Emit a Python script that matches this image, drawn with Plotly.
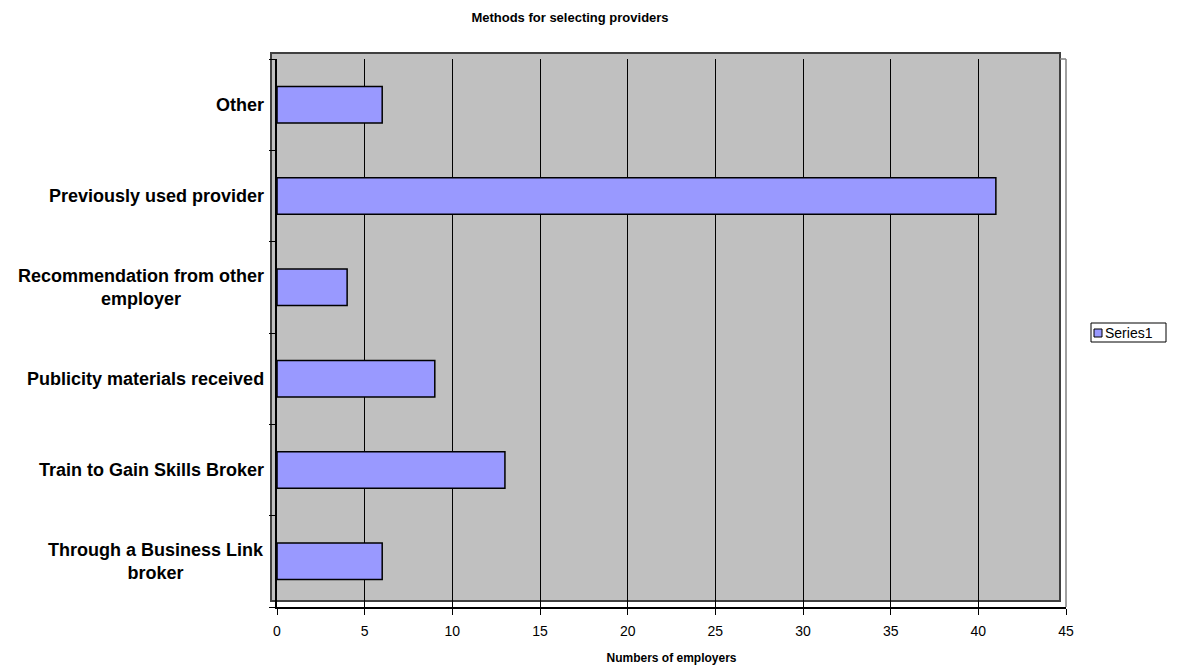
import plotly.graph_objects as go

categories = [
    "Through a Business Link<br>broker",
    "Train to Gain Skills Broker",
    "Publicity materials received",
    "Recommendation from other<br>employer",
    "Previously used provider",
    "Other",
]
values = [6, 13, 9, 4, 41, 6]
x_ticks = [0, 5, 10, 15, 20, 25, 30, 35, 40, 45]
series_name = "Series1"

W, H = 1178, 666
L, R, T, B = 277, 112, 59, 59
pw, ph = W - L - R, H - T - B
BAR_COLOR = "#9999FF"

def px_x(p):
    return (p - L) / pw

def px_y(p):
    return (H - B - p) / ph

fig = go.Figure()
fig.add_trace(go.Bar(
    y=categories, x=values, orientation="h", name=series_name,
    marker=dict(color=BAR_COLOR, line=dict(color="#000000", width=1.5)),
    showlegend=False,
))

annotations = [
    dict(text="<b>" + c + "</b>", x=px_x(266), xref="paper", y=c, yref="y",
         xanchor="right", yanchor="middle", align="center", showarrow=False,
         font=dict(size=18))
    for c in categories
]
annotations.append(dict(text=series_name, x=px_x(1103), xref="paper", y=px_y(332.5), yref="paper",
                        xanchor="left", yanchor="middle", showarrow=False, font=dict(size=14)))

fig.update_layout(
    width=W, height=H,
    margin=dict(l=L, r=R, t=T, b=B, autoexpand=False),
    paper_bgcolor="white", plot_bgcolor="rgba(0,0,0,0)",
    font=dict(family="Liberation Sans, Arial, sans-serif", color="black"),
    bargap=0.6,
    title=dict(text="<b>Methods for selecting providers</b>", x=570 / W, xanchor="center",
               y=1 - 17 / H, yanchor="middle", font=dict(size=13)),
    annotations=annotations,
    shapes=[
        dict(type="rect", xref="paper", yref="paper", layer="below",
             x0=px_x(271), x1=px_x(1060), y0=px_y(601), y1=px_y(53),
             fillcolor="#C0C0C0", line=dict(color="#404040", width=2)),
        dict(type="line", xref="paper", yref="paper", layer="above",
             x0=px_x(1060), x1=px_x(1066), y0=1, y1=1,
             line=dict(color="#808080", width=1.5)),
        dict(type="line", xref="paper", yref="paper", layer="above",
             x0=1, x1=1, y0=0, y1=1,
             line=dict(color="#808080", width=1.5)),
        # legend box
        dict(type="rect", xref="paper", yref="paper", layer="above",
             x0=px_x(1091), x1=px_x(1166), y0=px_y(342), y1=px_y(323),
             fillcolor="white", line=dict(color="black", width=1)),
        dict(type="rect", xref="paper", yref="paper", layer="above",
             x0=px_x(1094), x1=px_x(1102), y0=px_y(337), y1=px_y(329),
             fillcolor=BAR_COLOR, line=dict(color="black", width=1)),
    ],
)

fig.update_xaxes(
    range=[0, 45], tickvals=x_ticks, ticks="outside", ticklen=6, tickcolor="black",
    showgrid=True, gridcolor="black", gridwidth=1, zeroline=False,
    showline=True, linecolor="black", linewidth=1.5,
    tickfont=dict(size=14), ticklabelstandoff=4,
    title=dict(text="<b>Numbers of employers</b>", font=dict(size=12), standoff=16),
)
fig.update_yaxes(
    categoryorder="array", categoryarray=categories,
    ticks="outside", ticklen=6, tickcolor="black", tickson="boundaries",
    showgrid=False, zeroline=False, showticklabels=False,
    showline=True, linecolor="black", linewidth=1.5,
)

fig.write_html("out.html")
